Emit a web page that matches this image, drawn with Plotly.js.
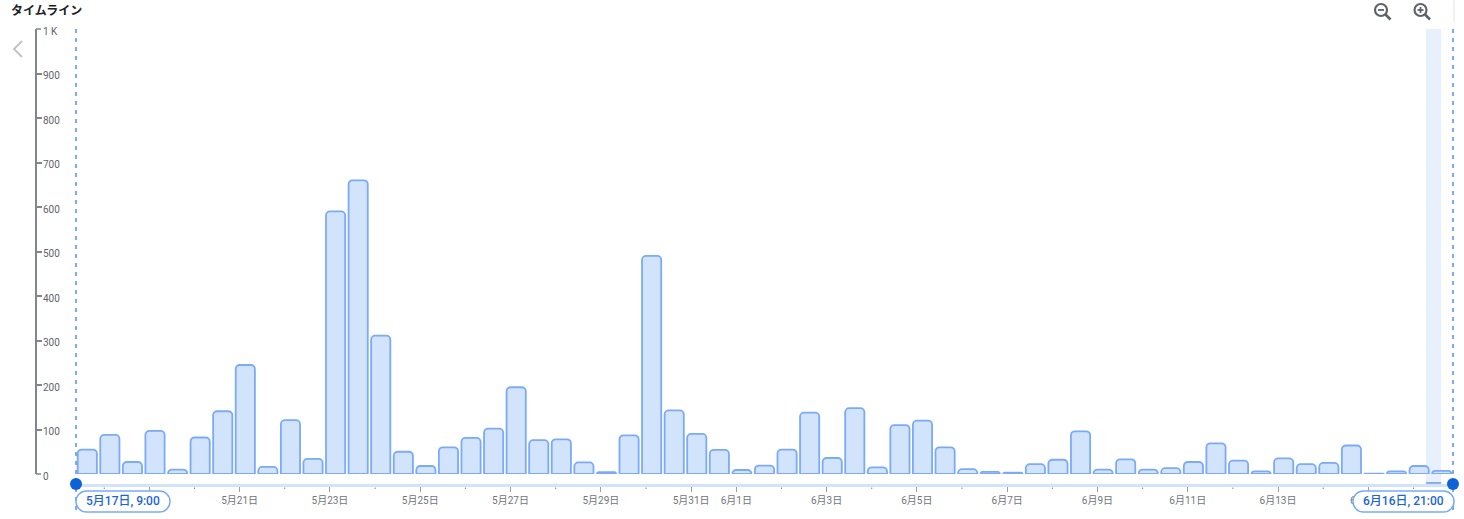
<!DOCTYPE html>
<html><head><meta charset="utf-8">
<script src="https://cdn.plot.ly/plotly-3.0.1.min.js"></script>
<style>html,body{margin:0;padding:0;background:#fff}</style></head>
<body><div id="chart" style="width:1464px;height:519px"></div>
<script>
const binDates = ["2025-05-17 15:00","2025-05-18 03:00","2025-05-18 15:00","2025-05-19 03:00","2025-05-19 15:00","2025-05-20 03:00","2025-05-20 15:00","2025-05-21 03:00","2025-05-21 15:00","2025-05-22 03:00","2025-05-22 15:00","2025-05-23 03:00","2025-05-23 15:00","2025-05-24 03:00","2025-05-24 15:00","2025-05-25 03:00","2025-05-25 15:00","2025-05-26 03:00","2025-05-26 15:00","2025-05-27 03:00","2025-05-27 15:00","2025-05-28 03:00","2025-05-28 15:00","2025-05-29 03:00","2025-05-29 15:00","2025-05-30 03:00","2025-05-30 15:00","2025-05-31 03:00","2025-05-31 15:00","2025-06-01 03:00","2025-06-01 15:00","2025-06-02 03:00","2025-06-02 15:00","2025-06-03 03:00","2025-06-03 15:00","2025-06-04 03:00","2025-06-04 15:00","2025-06-05 03:00","2025-06-05 15:00","2025-06-06 03:00","2025-06-06 15:00","2025-06-07 03:00","2025-06-07 15:00","2025-06-08 03:00","2025-06-08 15:00","2025-06-09 03:00","2025-06-09 15:00","2025-06-10 03:00","2025-06-10 15:00","2025-06-11 03:00","2025-06-11 15:00","2025-06-12 03:00","2025-06-12 15:00","2025-06-13 03:00","2025-06-13 15:00","2025-06-14 03:00","2025-06-14 15:00","2025-06-15 03:00","2025-06-15 15:00","2025-06-16 03:00","2025-06-16 15:00"];
const counts = [55,88,27,97,10,82,141,245,16,121,34,590,660,311,50,18,60,81,102,195,76,78,26,4,87,490,143,90,54,9,19,55,138,36,148,15,110,120,60,11,5,3,22,32,96,10,33,10,13,27,69,30,6,35,22,25,64,1,6,18,7];
const xTickVals = ["2025-05-19","2025-05-21","2025-05-23","2025-05-25","2025-05-27","2025-05-29","2025-05-31","2025-06-01","2025-06-03","2025-06-05","2025-06-07","2025-06-09","2025-06-11","2025-06-13","2025-06-15"];
const xTickText = ["","5月21日","5月23日","5月25日","5月27日","5月29日","5月31日","6月1日","6月3日","6月5日","6月7日","6月9日","6月11日","6月13日","6月15日"];
const minorDates = ["2025-05-18","2025-05-20","2025-05-22","2025-05-24","2025-05-26","2025-05-28","2025-05-30","2025-06-02","2025-06-04","2025-06-06","2025-06-08","2025-06-10","2025-06-12","2025-06-14","2025-06-16"];
const yTickVals = [0,100,200,300,400,500,600,700,800,900,1000];
const yTickText = ["0","100","200","300","400","500","600","700","800","900","1 K"];
const rangeStart = "2025-05-17 09:00", rangeEnd = "2025-06-16 21:00";
const startLabel = "5月17日, 9:00", endLabel = "6月16日, 21:00", titleText = "タイムライン";

const W=1464,H=519, px=x=>x/W, py=y=>1-y/H;
const pt=(x,y)=>px(x)+","+py(y);
function pill(x0,x1,y0,y1){
  const r=(y1-y0)/2,k=r*0.55;
  return "M"+pt(x0+r,y0)+" L"+pt(x1-r,y0)+
   " C"+pt(x1-r+k,y0)+" "+pt(x1,y0+r-k)+" "+pt(x1,y0+r)+
   " C"+pt(x1,y1-r+k)+" "+pt(x1-r+k,y1)+" "+pt(x1-r,y1)+
   " L"+pt(x0+r,y1)+
   " C"+pt(x0+r-k,y1)+" "+pt(x0,y1-r+k)+" "+pt(x0,y1-r)+
   " C"+pt(x0,y0+r-k)+" "+pt(x0+r-k,y0)+" "+pt(x0+r,y0)+" Z";
}
const paper=(o)=>Object.assign({xref:"paper",yref:"paper"},o);
const pr=(x0,y0,x1,y1,o)=>paper(Object.assign({x0:px(x0),x1:px(x1),y0:py(y0),y1:py(y1)},o));
const BLUE="#7baaf7",DARK="#0b62d9",ICON="#5f6368";
function magnifier(cx,cy){
  return [
    pr(cx-6,cy-6,cx+6,cy+6,{type:"circle",line:{color:ICON,width:2.2},layer:"above"}),
    pr(cx+4.5,cy+4.5,cx+9.5,cy+9.5,{type:"line",line:{color:ICON,width:2.6},layer:"above"}),
    pr(cx-3,cy,cx+3,cy,{type:"line",line:{color:ICON,width:1.8},layer:"above"})
  ];
}
const shapes=[
  {type:"rect",xref:"x",yref:"paper",x0:"2025-06-16 06:40",x1:"2025-06-16 14:40",y0:py(483),y1:py(29),fillcolor:"#e8f0fe",line:{width:0},layer:"below"},
  pr(76,29,76,512,{type:"line",line:{color:BLUE,width:2,dash:"4px,5px"},layer:"above"}),
  pr(1453,29,1453,512,{type:"line",line:{color:BLUE,width:2,dash:"4px,5px"},layer:"above"}),
  {type:"line",xref:"x",yref:"paper",x0:"2025-06-16 06:40",x1:"2025-06-16 14:40",y0:py(483),y1:py(483),line:{color:"#4a7fd6",width:1.2},layer:"above"},
  ...minorDates.map(d=>({type:"line",xref:"x",yref:"paper",x0:d,x1:d,y0:py(487.5),y1:py(489),line:{color:"#80868b",width:1},layer:"above"})),
  paper({type:"path",path:pill(76,170,491,512),fillcolor:"#fff",line:{color:BLUE,width:1.5},layer:"above"}),
  paper({type:"path",path:pill(1353,1454,491,512),fillcolor:"#fff",line:{color:BLUE,width:1.5},layer:"above"}),
  pr(70,478,82,490,{type:"circle",fillcolor:DARK,line:{width:0},layer:"above"}),
  pr(1447,478,1459,490,{type:"circle",fillcolor:DARK,line:{width:0},layer:"above"}),
  paper({type:"path",path:"M"+pt(22,41)+" L"+pt(14,49)+" L"+pt(22,57),line:{color:"#bdc1c6",width:1.8},layer:"above"}),
  pr(36,29,41,29,{type:"line",line:{color:"#80868b",width:1.5},layer:"above"}),
  pr(36,474,41,474,{type:"line",line:{color:"#80868b",width:1.5},layer:"above"}),
  ...magnifier(1381,10),
  ...magnifier(1420.5,10),
  pr(1420.5,7,1420.5,13,{type:"line",line:{color:ICON,width:1.8},layer:"above"}),
  pr(1454,0,1454,22,{type:"line",line:{color:"#e3e3e3",width:1},layer:"above"})
];
const pillFont={family:"Roboto, 'Noto Sans CJK JP', sans-serif",size:12,color:"#1a66d4",weight:500};
const annotations=[
  {xref:"paper",yref:"paper",x:px(9),y:py(9),xanchor:"left",yanchor:"middle",showarrow:false,text:"<b>"+titleText+"</b>",font:{family:"'Noto Sans CJK JP', sans-serif",size:12,color:"#202124"}},
  {xref:"paper",yref:"paper",x:px(123),y:py(501),xanchor:"center",yanchor:"middle",showarrow:false,text:startLabel,font:pillFont},
  {xref:"paper",yref:"paper",x:px(1403.5),y:py(501),xanchor:"center",yanchor:"middle",showarrow:false,text:endLabel,font:pillFont}
];
const data=[{type:"bar",x:binDates,y:counts,marker:{color:"#d2e3fc",line:{color:BLUE,width:1.8},cornerradius:4},hoverinfo:"x+y"}];
const tickFont={family:"Roboto, 'Noto Sans CJK JP', sans-serif",size:10,color:"#70757a"};
const layout={
  width:W,height:H,margin:{l:0,r:0,t:0,b:0,pad:0},paper_bgcolor:"#fff",plot_bgcolor:"rgba(0,0,0,0)",
  showlegend:false,bargap:0.15,
  xaxis:{type:"date",range:[rangeStart,rangeEnd],domain:[px(76),px(1453)],anchor:"free",position:py(484.5),
    showgrid:false,zeroline:false,showline:true,linecolor:"#d2e3fc",linewidth:3,
    tickmode:"array",tickvals:xTickVals,ticktext:xTickText,ticks:"outside",ticklen:5,tickcolor:"#9aa0a6",tickwidth:1,
    tickangle:0,tickfont:tickFont,automargin:false},
  yaxis:{range:[0,1000],domain:[py(474),py(29)],anchor:"free",position:px(36),
    showgrid:false,zeroline:false,showline:true,linecolor:"#80868b",linewidth:2,
    tickmode:"array",tickvals:yTickVals,ticktext:yTickText,ticks:"inside",ticklen:5,tickcolor:"#80868b",tickwidth:1.5,
    ticklabelposition:"inside",ticklabeloverflow:"allow",ticklabelshift:2,tickfont:Object.assign({},tickFont,{color:"#5f6368"}),automargin:false},
  shapes,annotations
};
Plotly.newPlot("chart",data,layout,{displayModeBar:false,responsive:false});
</script></body></html>
